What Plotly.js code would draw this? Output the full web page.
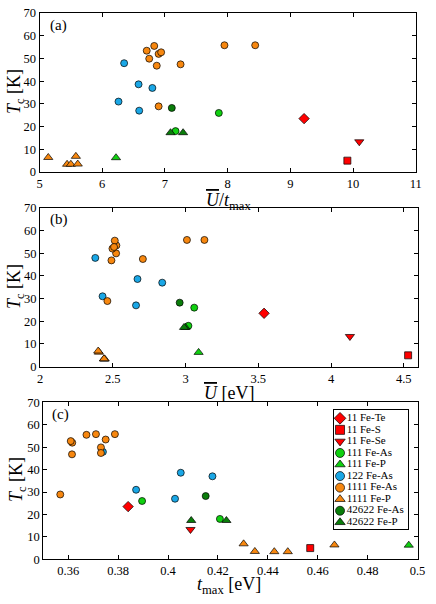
<!DOCTYPE html>
<html>
<head>
<meta charset="utf-8">
<script src="https://cdn.plot.ly/plotly-3.0.1.min.js"></script>
<style>html,body{margin:0;padding:0;background:#fff;}#chart{width:436px;height:604px;}</style>
</head>
<body>
<div id="chart"></div>
<script>
// Series names (legend order)
const seriesNames = ['11 Fe-Te','11 Fe-S','11 Fe-Se','111 Fe-As','111 Fe-P','122 Fe-As','1111 Fe-As','1111 Fe-P','42622 Fe-As','42622 Fe-P'];

// Tc [K] for each series
const tc_11FeTe = [23.5];
const tc_11FeS = [5.0];
const tc_11FeSe = [13.3];
const tc_111FeAs = [26.0, 18.0];
const tc_111FeP = [6.3];
const tc_122FeAs = [47.9, 38.6, 37.0, 31.0, 27.0];
const tc_1111FeAs = [53.4, 55.5, 49.9, 52.0, 52.7, 46.8, 47.4, 28.9, 55.8, 55.8];
const tc_1111FeP = [6.4, 3.4, 3.4, 6.9, 3.5];
const tc_42622FeAs = [28.2];
const tc_42622FeP = [17.3, 17.3];

// Panel (a): U/t_max
const ut_11FeTe = [9.22];
const ut_11FeS = [9.91];
const ut_11FeSe = [10.10];
const ut_111FeAs = [7.86, 7.17];
const ut_111FeP = [6.22];
const ut_122FeAs = [6.35, 6.58, 6.80, 6.26, 6.59];
const ut_1111FeAs = [6.71, 6.83, 6.75, 6.90, 6.94, 6.87, 7.25, 6.90, 7.95, 8.44];
const ut_1111FeP = [5.14, 5.44, 5.50, 5.58, 5.61];
const ut_42622FeAs = [7.11];
const ut_42622FeP = [7.09, 7.29];

// Panel (b): U [eV]
const u_11FeTe = [3.54];
const u_11FeS = [4.53];
const u_11FeSe = [4.13];
const u_111FeAs = [3.06, 3.02];
const u_111FeP = [3.09];
const u_122FeAs = [2.38, 2.67, 2.84, 2.43, 2.66];
const u_1111FeAs = [2.525, 2.514, 2.523, 2.498, 2.509, 2.491, 2.707, 2.463, 3.01, 3.13];
const u_1111FeP = [2.405, 2.44, 2.445, 2.40, 2.44];
const u_42622FeAs = [2.96];
const u_42622FeP = [3.00, 2.99];

// Panel (c): t_max [eV]
const t_11FeTe = [0.384];
const t_11FeS = [0.457];
const t_11FeSe = [0.409];
const t_111FeAs = [0.3896, 0.4208];
const t_111FeP = [0.4965];
const t_122FeAs = [0.3739, 0.4051, 0.4178, 0.3872, 0.4028];
const t_1111FeAs = [0.3750, 0.3673, 0.3731, 0.3616, 0.3610, 0.3615, 0.3731, 0.3568, 0.3787, 0.3711];
const t_1111FeP = [0.4667, 0.4480, 0.4426, 0.4303, 0.4348];
const t_42622FeAs = [0.4151];
const t_42622FeP = [0.4234, 0.4093];

// Axis ticks
const ticksA = [5, 6, 7, 8, 9, 10, 11];
const ticksB = [2, 2.5, 3, 3.5, 4, 4.5];
const ticksC = [0.36, 0.38, 0.4, 0.42, 0.44, 0.46, 0.48, 0.5];
const ticksY = [0, 10, 20, 30, 40, 50, 60, 70];

// Styles
const colors = ['#ff0000','#ff0000','#ff0000','#10d010','#10d010','#1aa7e6','#f7870f','#f7870f','#0a7d0a','#0a7d0a'];
const symbols = ['diamond','square','triangle-down','circle','triangle-up','circle','circle','triangle-up','circle','triangle-up'];
const sizes = [8, 7, 8, 7, 8, 7, 7, 8, 7, 8];

const tcs = [tc_11FeTe, tc_11FeS, tc_11FeSe, tc_111FeAs, tc_111FeP, tc_122FeAs, tc_1111FeAs, tc_1111FeP, tc_42622FeAs, tc_42622FeP];
const xa = [ut_11FeTe, ut_11FeS, ut_11FeSe, ut_111FeAs, ut_111FeP, ut_122FeAs, ut_1111FeAs, ut_1111FeP, ut_42622FeAs, ut_42622FeP];
const xb = [u_11FeTe, u_11FeS, u_11FeSe, u_111FeAs, u_111FeP, u_122FeAs, u_1111FeAs, u_1111FeP, u_42622FeAs, u_42622FeP];
const xc = [t_11FeTe, t_11FeS, t_11FeSe, t_111FeAs, t_111FeP, t_122FeAs, t_1111FeAs, t_1111FeP, t_42622FeAs, t_42622FeP];

const FONT = '"Liberation Serif", "Times New Roman", "DejaVu Serif", serif';
const traces = [];
const panels = [[xa, 'x', 'y'], [xb, 'x2', 'y2'], [xc, 'x3', 'y3']];
panels.forEach(([xs, xr, yr]) => {
  seriesNames.forEach((name, i) => {
    traces.push({
      type: 'scatter', mode: 'markers', name: name, showlegend: false,
      x: xs[i], y: tcs[i], xaxis: xr, yaxis: yr,
      marker: {symbol: symbols[i], color: colors[i], size: sizes[i], line: {color: '#000', width: 0.7}},
      hoverinfo: 'skip'
    });
  });
});
// Custom legend drawn through its own small axes
traces.push({
  type: 'scatter', mode: 'markers+text', showlegend: false,
  x: seriesNames.map(() => 0), y: seriesNames.map((s, i) => i),
  xaxis: 'x4', yaxis: 'y4',
  text: seriesNames, textposition: 'middle right',
  textfont: {family: FONT, size: 11, color: '#000'},
  marker: {symbol: symbols, color: colors, size: 9, line: {color: '#000', width: 0.7}},
  hoverinfo: 'skip', cliponaxis: false
});

function px(xl, xr) { return [xl / 436, xr / 436]; }
function py(top, bot) { return [(604 - bot) / 604, (604 - top) / 604]; }

const axBase = {
  showline: true, mirror: 'ticks', linecolor: '#000', linewidth: 1,
  ticks: 'inside', ticklen: 4, tickwidth: 1, tickcolor: '#000',
  showgrid: false, zeroline: false, ticklabelstandoff: 0,
  tickfont: {family: FONT, size: 12.5, color: '#000'}
};
function ax(extra) { return Object.assign({}, axBase, extra); }

const yTitle = '<i>T</i><sub>c</sub> [K]';
const Ubar = '<span style="text-decoration:overline"><i>U</i></span>';

const annFont = {family: FONT, size: 18, color: '#000'};
const annotations = [
  {text: '(a)', x: 48 / 436, y: (604 - 25) / 604, xref: 'paper', yref: 'paper', xanchor: 'left', yanchor: 'middle', showarrow: false, font: {family: FONT, size: 15, color: '#000'}},
  {text: '(b)', x: 48 / 436, y: (604 - 220) / 604, xref: 'paper', yref: 'paper', xanchor: 'left', yanchor: 'middle', showarrow: false, font: {family: FONT, size: 15, color: '#000'}},
  {text: '(c)', x: 50 / 436, y: (604 - 414) / 604, xref: 'paper', yref: 'paper', xanchor: 'left', yanchor: 'middle', showarrow: false, font: {family: FONT, size: 15, color: '#000'}},
  {text: Ubar + '/<i>t</i><sub>max</sub>', x: 228 / 436, y: (604 - 201) / 604, xref: 'paper', yref: 'paper', xanchor: 'center', yanchor: 'middle', showarrow: false, font: annFont},
  {text: Ubar + ' [eV]', x: 229 / 436, y: (604 - 393) / 604, xref: 'paper', yref: 'paper', xanchor: 'center', yanchor: 'middle', showarrow: false, font: annFont},
  {text: '<i>t</i><sub>max</sub> [eV]', x: 229 / 436, y: (604 - 585) / 604, xref: 'paper', yref: 'paper', xanchor: 'center', yanchor: 'middle', showarrow: false, font: annFont},
  {text: yTitle, x: 15 / 436, y: (604 - 92) / 604, xref: 'paper', yref: 'paper', xanchor: 'center', yanchor: 'middle', textangle: -90, showarrow: false, font: annFont},
  {text: yTitle, x: 15 / 436, y: (604 - 287) / 604, xref: 'paper', yref: 'paper', xanchor: 'center', yanchor: 'middle', textangle: -90, showarrow: false, font: annFont},
  {text: yTitle, x: 17 / 436, y: (604 - 480) / 604, xref: 'paper', yref: 'paper', xanchor: 'center', yanchor: 'middle', textangle: -90, showarrow: false, font: annFont}
];

const layout = {
  width: 436, height: 604,
  margin: {l: 0, r: 0, t: 0, b: 0},
  paper_bgcolor: '#fff', plot_bgcolor: 'rgba(0,0,0,0)',
  showlegend: false,
  font: {family: FONT, color: '#000'},
  xaxis: ax({domain: px(39.5, 415.7), range: [5, 11], tickvals: ticksA, anchor: 'y'}),
  yaxis: ax({domain: py(13, 172), range: [0, 70], tickvals: ticksY, anchor: 'x'}),
  xaxis2: ax({domain: px(40, 418.3), range: [2, 4.6], tickvals: ticksB, anchor: 'y2'}),
  yaxis2: ax({domain: py(207.7, 366.7), range: [0, 70], tickvals: ticksY, anchor: 'x2'}),
  xaxis3: ax({domain: px(43.3, 417.5), range: [0.35, 0.5], tickvals: ticksC, ticktext: ticksC.map(String), anchor: 'y3'}),
  yaxis3: ax({domain: py(402.3, 559.3), range: [0, 70], tickvals: ticksY, anchor: 'x3'}),
  xaxis4: {domain: px(334, 408.3), range: [-0.081, 0.919], anchor: 'y4', showline: true, mirror: true, linecolor: '#000', linewidth: 1, showticklabels: false, ticks: '', showgrid: false, zeroline: false, fixedrange: true},
  yaxis4: {domain: py(410, 529.3), range: [9.606, -0.718], anchor: 'x4', showline: true, mirror: true, linecolor: '#000', linewidth: 1, showticklabels: false, ticks: '', showgrid: false, zeroline: false, fixedrange: true},
  annotations: annotations
};

Plotly.newPlot('chart', traces, layout, {staticPlot: true, displayModeBar: false});
</script>
</body>
</html>
